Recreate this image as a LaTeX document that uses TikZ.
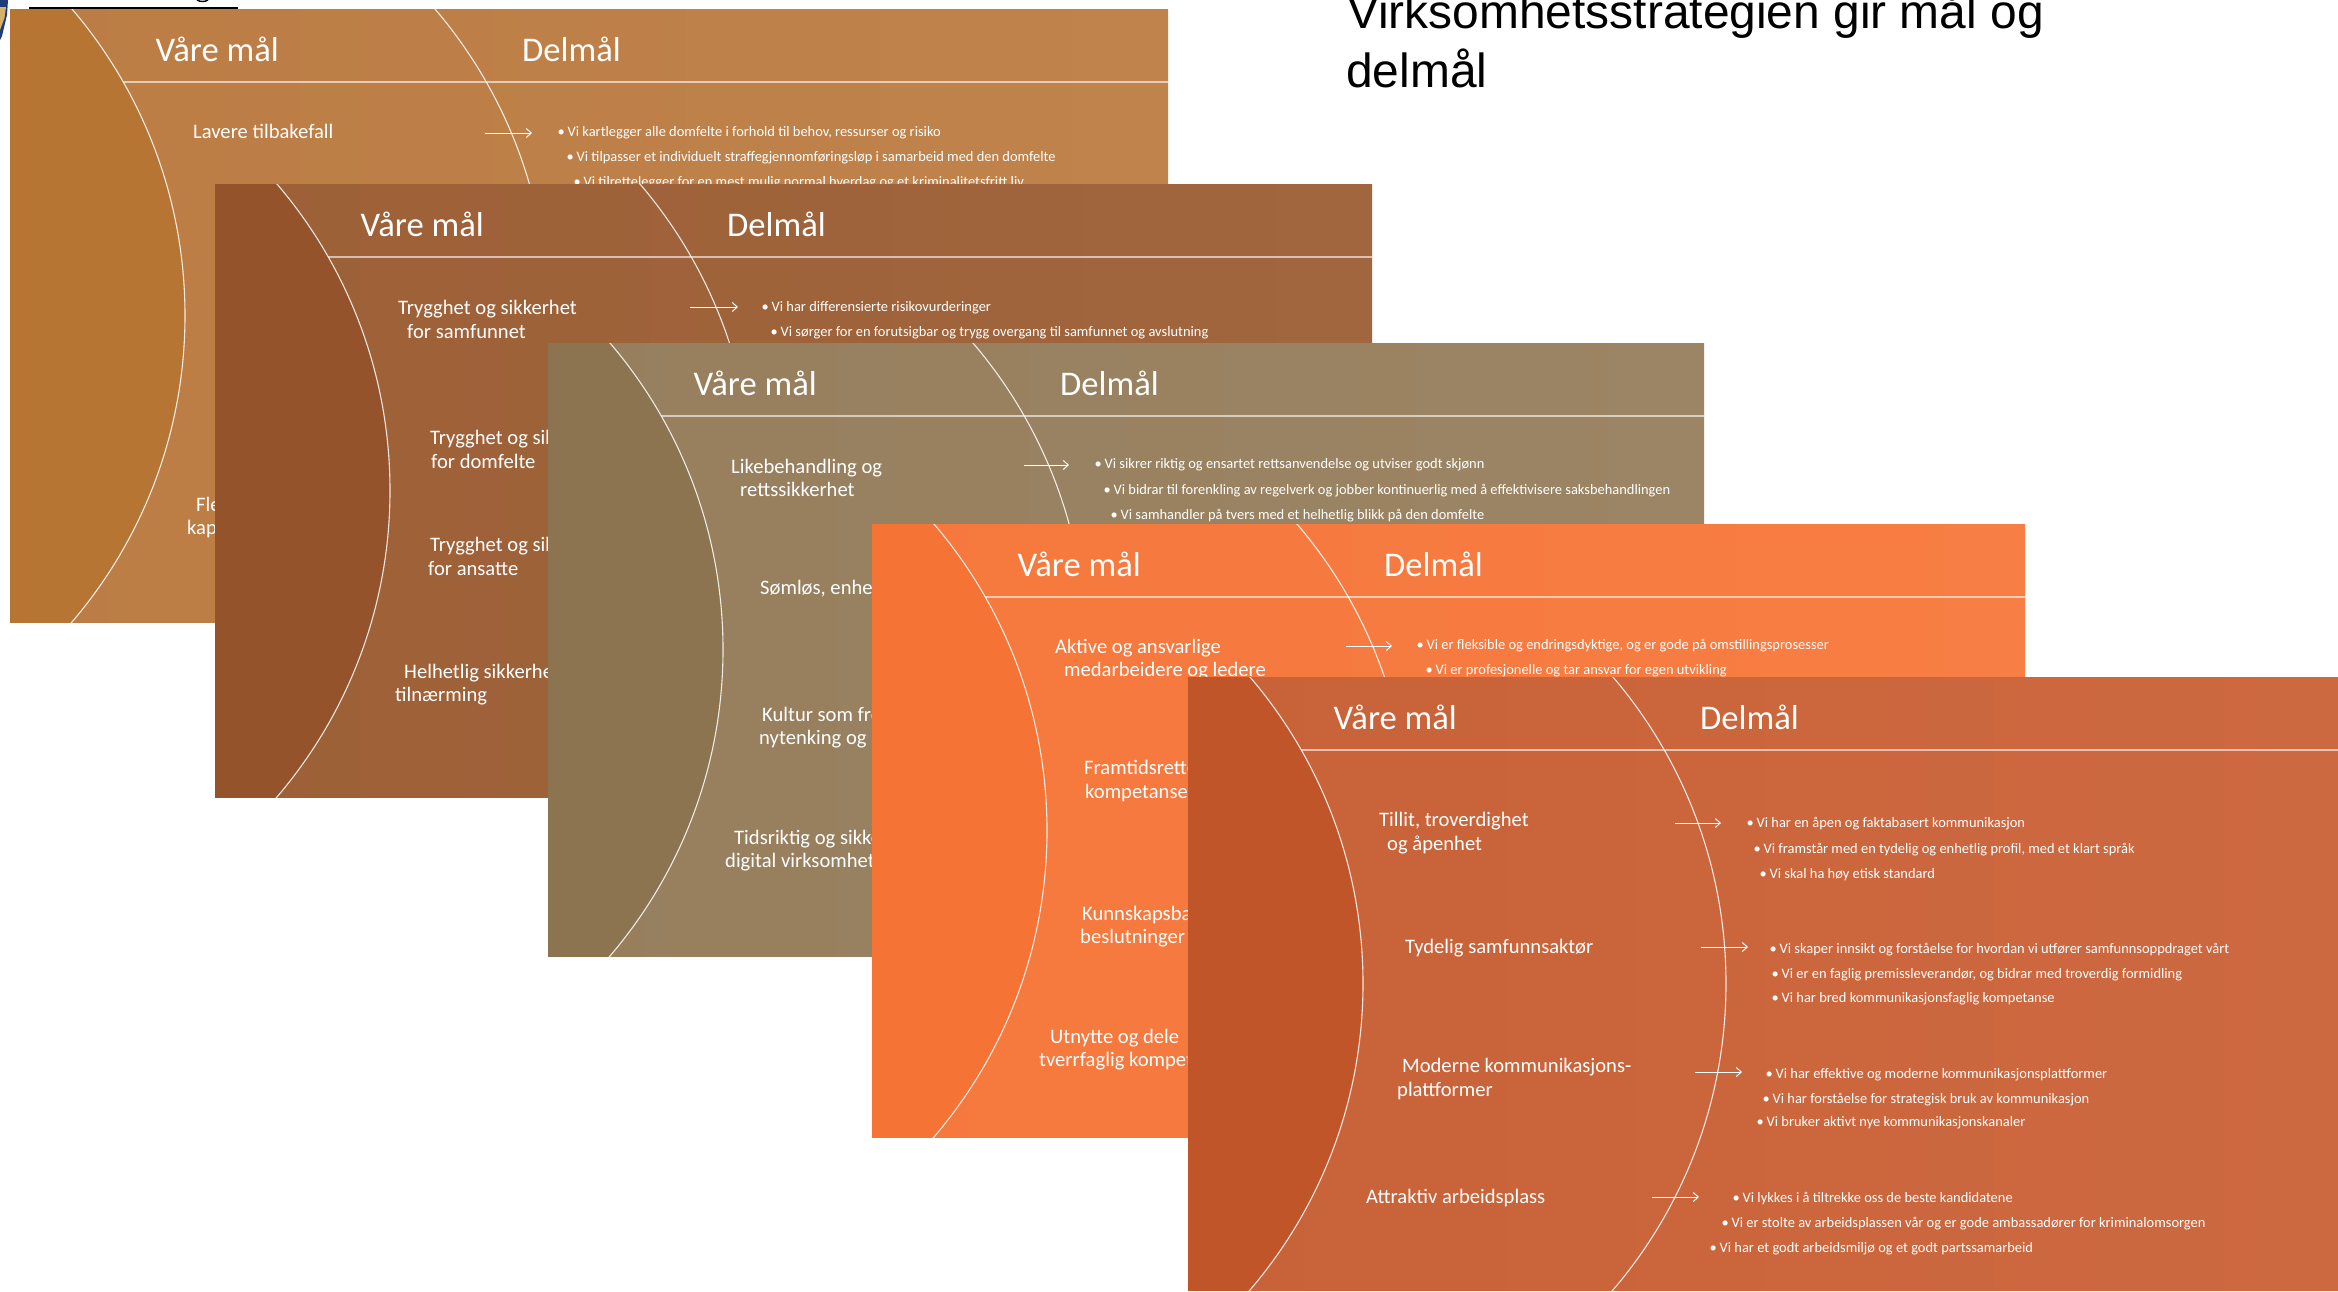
\documentclass[tikz,border=0pt]{standalone}
\usepackage{fontspec}
\setmainfont{Carlito}
\newfontfamily\titlefont{Liberation Sans}
\usetikzlibrary{arrows.meta}
\newcounter{tn}
\tikzset{
  headtext/.style={anchor=base west,inner sep=0pt,text=white,font=\fontsize{34.6}{35}\selectfont},
  goaltext/.style={anchor=base west,inner sep=0pt,text=white,font=\fontsize{20.6}{21}\selectfont},
  bultext/.style={anchor=base west,inner sep=0pt,text=white,font=\fontsize{14.45}{15}\selectfont},
  titletext/.style={anchor=base west,inner sep=0pt,text=black,font=\titlefont\fontsize{47.9}{48}\selectfont},
  arcline/.style={draw=white,line width=1.1pt,opacity=.85},
  ruleline/.style={draw=white,line width=1.4pt,opacity=.6},
  goalarrow/.style={draw=white,line width=1pt,-{Straight Barb[length=5pt,width=9pt]}}
}
\newcommand{\panel}[6]{% x0,y0,lens,bgleft,bgright,width
  \begin{scope}[shift={(#1,#2)}]
    \shade[left color=#4,right color=#5] (0,0) rectangle (#6,613);
    \begin{scope}
      \clip (0,0) rectangle (#6,613);
      \fill[#3] (-297,306.5) circle[radius=472pt];
      \draw[arcline] (-297,306.5) circle[radius=472pt];
      \draw[arcline] (66,306.5) circle[radius=472pt];
    \end{scope}
    \draw[ruleline] (113,73) -- (#6,73);
    \stepcounter{tn}\node[headtext,name=t\thetn] at (145.5,52) {Våre mål};
    \stepcounter{tn}\node[headtext,name=t\thetn] at (512,52) {Delmål};
  \end{scope}}
\newcommand{\goal}[3]{\stepcounter{tn}\node[goaltext,name=t\thetn] at (#1,#2+1) {#3};}
\newcommand{\bul}[3]{\stepcounter{tn}\node[bultext,name=t\thetn] at (#1-0.5,#2+1) {\llap{\textbullet\hspace{3pt}}#3};}
\newcommand{\garrow}[3]{\stepcounter{tn}\coordinate (as\thetn) at (#1,#3);\coordinate (ae\thetn) at (#2,#3);\draw[goalarrow] (as\thetn) -- (ae\thetn);}
\definecolor{pAl}{RGB}{183,117,52}\definecolor{pAa}{RGB}{187,125,68}\definecolor{pAb}{RGB}{192,131,76}
\definecolor{pBl}{RGB}{149,83,44}\definecolor{pBa}{RGB}{157,96,55}\definecolor{pBb}{RGB}{161,102,62}
\definecolor{pCl}{RGB}{139,116,79}\definecolor{pCa}{RGB}{151,127,94}\definecolor{pCb}{RGB}{156,133,100}
\definecolor{pDl}{RGB}{244,115,53}\definecolor{pDa}{RGB}{246,120,61}\definecolor{pDb}{RGB}{247,126,68}
\definecolor{pEl}{RGB}{193,85,42}\definecolor{pEa}{RGB}{200,98,56}\definecolor{pEb}{RGB}{205,105,65}
\definecolor{logoblue}{RGB}{30,60,120}\definecolor{logotan}{RGB}{214,178,105}
\begin{document}
\begin{tikzpicture}[x=1pt,y=-1pt]
\useasboundingbox (0,0) rectangle (2338,1291);
\clip (0,0) rectangle (2338,1291);
\fill[white] (0,0) rectangle (2338,1291);
% corner fragments
\fill[logoblue] (0,0) -- (8,0) -- (7,15) -- (2,36) -- (0,40) -- cycle;
\fill[logotan] (0,7) -- (6,7) -- (4.5,18) -- (0,30) -- cycle;
\draw[black,line width=2pt] (29,7.5) -- (238,7.5);
\draw[black,line width=1.4pt] (197,0) .. controls (200,2) and (205,2) .. (208,0);
% title
\stepcounter{tn}\node[titletext,name=t\thetn] at (1347,28) {Virksomhetsstrategien gir mål og};
\stepcounter{tn}\node[titletext,name=t\thetn] at (1346,87) {delmål};
% panel 1
\panel{10}{9}{pAl}{pAa}{pAb}{1158}
\goal{193}{137}{Lavere tilbakefall}
\garrow{485}{532}{133}
\bul{568}{135}{Vi kartlegger alle domfelte i forhold til behov, ressurser og risiko}
\bul{577}{160}{Vi tilpasser et individuelt straffegjennomføringsløp i samarbeid med den domfelte}
\bul{584}{185}{Vi tilrettelegger for en mest mulig normal hverdag og et kriminalitetsfritt liv}
\goal{196}{510}{Fleksibel}
\goal{187}{533}{kapasitet}
% panel 2
\panel{215}{184}{pBl}{pBa}{pBb}{1157}
\goal{398}{313}{Trygghet og sikkerhet}
\goal{407}{337}{for samfunnet}
\garrow{690}{738}{307}
\bul{772}{310}{Vi har differensierte risikovurderinger}
\bul{781}{335}{Vi sørger for en forutsigbar og trygg overgang til samfunnet og avslutning}
\goal{430}{443}{Trygghet og sikkerhet}
\goal{431}{467}{for domfelte}
\goal{430}{550}{Trygghet og sikkerhet}
\goal{428}{574}{for ansatte}
\goal{404}{677}{Helhetlig sikkerhet}
\goal{395}{700}{tilnærming}
% panel 3
\panel{548}{343}{pCl}{pCa}{pCb}{1156}
\goal{731}{472}{Likebehandling og}
\goal{740}{495}{rettssikkerhet}
\garrow{1024}{1069}{465}
\bul{1105}{467}{Vi sikrer riktig og ensartet rettsanvendelse og utviser godt skjønn}
\bul{1114}{493}{Vi bidrar til forenkling av regelverk og jobber kontinuerlig med å effektivisere saksbehandlingen}
\bul{1121}{518}{Vi samhandler på tvers med et helhetlig blikk på den domfelte}
\goal{760}{593}{Sømløs, enhetlig}
\goal{762}{720}{Kultur som fremmer}
\goal{759}{743}{nytenking og samarbeid}
\goal{734}{843}{Tidsriktig og sikker}
\goal{725}{866}{digital virksomhet}
% panel 4
\panel{872}{524}{pDl}{pDa}{pDb}{1153}
\goal{1055}{652}{Aktive og ansvarlige}
\goal{1064}{675}{medarbeidere og ledere}
\garrow{1346}{1392}{646}
\bul{1427}{648}{Vi er fleksible og endringsdyktige, og er gode på omstillingsprosesser}
\bul{1436}{673}{Vi er profesjonelle og tar ansvar for egen utvikling}
\goal{1084}{773}{Framtidsrettet}
\goal{1085}{797}{kompetanse}
\goal{1082}{919}{Kunnskapsbaserte}
\goal{1080}{942}{beslutninger}
\goal{1050}{1042}{Utnytte og dele}
\goal{1039}{1065}{tverrfaglig kompetanse}
% panel 5
\panel{1188}{677}{pEl}{pEa}{pEb}{1150}
\goal{1379}{825}{Tillit, troverdighet}
\goal{1387}{849}{og åpenhet}
\garrow{1675}{1721}{823}
\bul{1757}{826}{Vi har en åpen og faktabasert kommunikasjon}
\bul{1764}{852}{Vi framstår med en tydelig og enhetlig profil, med et klart språk}
\bul{1770}{877}{Vi skal ha høy etisk standard}
\goal{1405}{952}{Tydelig samfunnsaktør}
\garrow{1701}{1748}{947}
\bul{1780}{952}{Vi skaper innsikt og forståelse for hvordan vi utfører samfunnsoppdraget vårt}
\bul{1782}{977}{Vi er en faglig premissleverandør, og bidrar med troverdig formidling}
\bul{1782}{1001}{Vi har bred kommunikasjonsfaglig kompetanse}
\goal{1402}{1071}{Moderne kommunikasjons-}
\goal{1397}{1095}{plattformer}
\garrow{1695}{1742}{1072}
\bul{1776}{1077}{Vi har effektive og moderne kommunikasjonsplattformer}
\bul{1773}{1102}{Vi har forståelse for strategisk bruk av kommunikasjon}
\bul{1767}{1125}{Vi bruker aktivt nye kommunikasjonskanaler}
\goal{1366}{1202.5}{Attraktiv arbeidsplass}
\garrow{1652}{1699}{1197}
\bul{1743}{1201}{Vi lykkes i å tiltrekke oss de beste kandidatene}
\bul{1732}{1226}{Vi er stolte av arbeidsplassen vår og er gode ambassadører for kriminalomsorgen}
\bul{1720}{1251}{Vi har et godt arbeidsmiljø og et godt partssamarbeid}
\end{tikzpicture}
\end{document}
